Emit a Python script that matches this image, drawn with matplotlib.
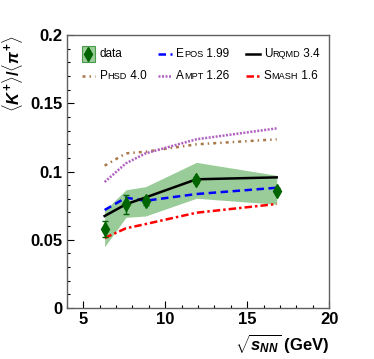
import matplotlib
matplotlib.use("Agg")
import matplotlib.pyplot as plt
from matplotlib.offsetbox import HPacker, TextArea, DrawingArea, AnchoredOffsetbox
from matplotlib.lines import Line2D
from matplotlib.patches import Rectangle

plt.rcParams['font.family'] = ['Liberation Sans', 'DejaVu Sans']
plt.rcParams['mathtext.fontset'] = 'custom'
plt.rcParams['mathtext.rm'] = 'Liberation Sans:bold'
plt.rcParams['mathtext.it'] = 'Liberation Sans:bold:italic'
plt.rcParams['mathtext.bf'] = 'Liberation Sans:bold'

# data (NA49-like K+/pi+ ratio)
sqrt_s = [6.3, 7.6, 8.8, 11.9, 16.8]
ratio = [0.0577, 0.0760, 0.0786, 0.0938, 0.0859]
ratio_err = [0.0060, 0.0070, 0.0030, 0.0020, 0.0020]
band_low = [0.0449, 0.0664, 0.0674, 0.0804, 0.0760]
band_high = [0.0715, 0.0866, 0.0889, 0.1067, 0.0972]

# models
epos = [0.0718, 0.0808, 0.0786, 0.0835, 0.0881]
urqmd = [0.0674, 0.0760, 0.0810, 0.0943, 0.0957]
phsd = [0.1043, 0.1133, 0.1145, 0.1199, 0.1236]
ampt = [0.0923, 0.1060, 0.1133, 0.1236, 0.1316]
smash = [0.0513, 0.0584, 0.0615, 0.0698, 0.0762]

band_col = '#99cc99'
dgreen = '#006400'
styles = {
    'epos': dict(color='#0000ff', lw=1.8, ls=(0, (3, 1.8))),
    'urqmd': dict(color='black', lw=1.8, ls='-'),
    'phsd': dict(color='#a8784a', lw=1.8, ls=(0, (1.2, 1.6, 0.6, 1.6))),
    'ampt': dict(color='#b060c0', lw=1.8, ls=(0, (0.8, 0.6))),
    'smash': dict(color='#ff0000', lw=1.8, ls=(0, (3, 1.2, 1, 1.2))),
}

fig = plt.figure(figsize=(3.74, 3.59), dpi=100)
ax = fig.add_axes([0.179, 0.142, 0.701, 0.7605])

ax.fill_between(sqrt_s, band_low, band_high, color=band_col, lw=0)
ax.plot(sqrt_s, phsd, **styles['phsd'])
ax.plot(sqrt_s, ampt, **styles['ampt'])
ax.plot(sqrt_s, smash, **styles['smash'])
ax.plot(sqrt_s, epos, **styles['epos'])
ax.plot(sqrt_s, urqmd, **styles['urqmd'])
ax.errorbar(sqrt_s, ratio, yerr=ratio_err, fmt='d', color=dgreen, ms=7,
            elinewidth=1, capsize=2, zorder=5)

ax.set_xlim(4, 20)
ax.set_ylim(0, 0.2)
ax.set_xticks([5, 10, 15, 20])
ax.set_xticks(range(4, 21), minor=True)
ax.set_yticks([0, 0.05, 0.1, 0.15, 0.2])
ax.set_yticks([i * 0.01 for i in range(21)], minor=True)
ax.set_xticklabels(['5', '10', '15', '20'])
ax.set_yticklabels(['0', '0.05', '0.1', '0.15', '0.2'])
ax.tick_params(which='both', direction='in', top=False, right=False,
               labelsize=12, pad=3)
ax.tick_params(which='major', length=5, width=0.8)
ax.tick_params(which='minor', length=2.5, width=0.8)
for lab in ax.get_xticklabels() + ax.get_yticklabels():
    lab.set_fontweight('bold')
for sp in ax.spines.values():
    sp.set_color('#606060')
    sp.set_linewidth(1.0)

ax.set_xlabel(r'$\sqrt{s_{NN}}$ (GeV)', loc='right', fontsize=12,
              fontweight='bold', labelpad=4)
ax.set_ylabel(r'$\langle K^{+}\rangle/\langle \pi^{+}\rangle$', loc='top',
              fontsize=12, fontweight='bold', labelpad=4)

# legend with small caps labels, one anchored box per entry
big, small = 8.5, 6.6


def label(parts):
    boxes = []
    for txt, sz in parts:
        boxes.append(TextArea(txt, textprops=dict(size=sz, color='black')))
    return HPacker(children=boxes, pad=0, sep=0, align='baseline')


def line_key(st):
    da = DrawingArea(11, 8, 0, 0)
    da.add_artist(Line2D([0.5, 10.5], [4, 4], **st))
    return da


def data_key():
    da = DrawingArea(11, 12, 0, 0)
    da.add_artist(Rectangle((0.5, 0.5), 10, 11, facecolor=band_col,
                            edgecolor='#4a9a4a', lw=0.8))
    da.add_artist(Line2D([5.5], [6], marker='d', color=dgreen, ms=7))
    return da


entries = [
    (data_key(), [('data', big)], 0.053, 0.930),
    (line_key(styles['phsd']), [('P', big), ('HSD', small), (' 4.0', big)], 0.053, 0.850),
    (line_key(styles['epos']), [('E', big), ('POS', small), (' 1.99', big)], 0.344, 0.930),
    (line_key(styles['ampt']), [('A', big), ('MPT', small), (' 1.26', big)], 0.344, 0.850),
    (line_key(styles['urqmd']), [('U', big), ('RQMD', small), (' 3.4', big)], 0.679, 0.930),
    (line_key(styles['smash']), [('S', big), ('MASH', small), (' 1.6', big)], 0.679, 0.850),
]
for key, parts, xa, ya in entries:
    box = HPacker(children=[key, label(parts)], pad=0, sep=2.5, align='center')
    anch = AnchoredOffsetbox(loc='center left', child=box, pad=0, borderpad=0,
                             frameon=False, bbox_to_anchor=(xa, ya),
                             bbox_transform=ax.transAxes)
    ax.add_artist(anch)

fig.savefig('out.png', dpi=100)
